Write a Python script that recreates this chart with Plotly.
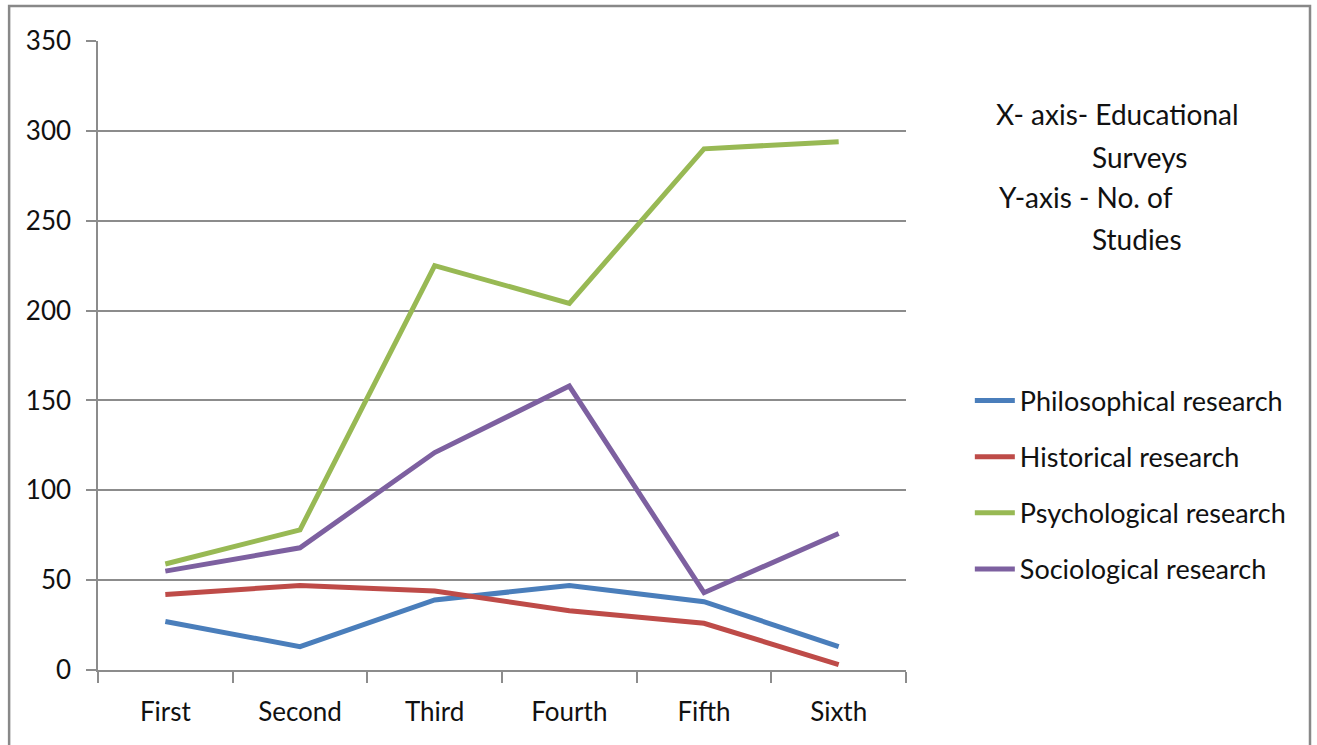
import plotly.graph_objects as go

# Survey categories and number of studies per research type
surveys = ["First", "Second", "Third", "Fourth", "Fifth", "Sixth"]
philosophical = [27, 13, 39, 47, 38, 13]
historical = [42, 47, 44, 33, 26, 3]
psychological = [59, 78, 225, 204, 290, 294]
sociological = [55, 68, 121, 158, 43, 76]

y_ticks = [0, 50, 100, 150, 200, 250, 300, 350]

series = [
    ("Philosophical research", philosophical, "#4A7EBB"),
    ("Historical research", historical, "#BE4B48"),
    ("Psychological research", psychological, "#98B954"),
    ("Sociological research", sociological, "#7D60A0"),
]

FONT = "Lato, Calibri, sans-serif"
TEXT = "#111111"
GRID = "#8c8c8c"

fig = go.Figure()
for i, (name, vals, color) in enumerate(series):
    fig.add_trace(go.Scatter(
        x=surveys, y=vals, name=name, mode="lines",
        line=dict(color=color, width=5),
        legendgroup=f"g{i}",
    ))

fig.update_layout(
    width=1317, height=745,
    margin=dict(l=98, r=411, t=41, b=75),
    paper_bgcolor="white", plot_bgcolor="white",
    font=dict(family=FONT, size=26, color=TEXT),
    showlegend=True,
    legend=dict(
        x=1.079, y=0.294, xanchor="left", yanchor="middle",
        font=dict(family=FONT, size=27, color=TEXT),
        tracegroupgap=18, itemwidth=40,
        bgcolor="rgba(0,0,0,0)",
    ),
    xaxis=dict(
        type="category", tickson="boundaries",
        showgrid=False, showline=True, linecolor=GRID, linewidth=1.5,
        ticks="outside", ticklen=11, tickcolor=GRID, tickwidth=1.5,
        tickfont=dict(family=FONT, size=26, color=TEXT),
        ticklabelstandoff=18,
        range=[-0.5, 5.5], fixedrange=True,
    ),
    yaxis=dict(
        range=[0, 350], tickvals=y_ticks,
        showgrid=True, gridcolor=GRID, gridwidth=1.5,
        showline=True, linecolor=GRID, linewidth=1.5,
        ticks="outside", ticklen=10, tickcolor=GRID, tickwidth=1.5,
        tickfont=dict(family=FONT, size=26, color=TEXT),
        ticklabelstandoff=10, zeroline=False,
    ),
)

# Axis description text block
notes = [
    ("X- axis- Educational", 1.109, 0.884),
    ("Surveys", 1.228, 0.816),
    ("Y-axis - No. of", 1.113, 0.752),
    ("Studies", 1.228, 0.685),
]
for text, x, y in notes:
    fig.add_annotation(
        text=text, xref="paper", yref="paper", x=x, y=y,
        xanchor="left", yanchor="middle", showarrow=False,
        font=dict(family=FONT, size=28, color=TEXT),
    )

# Outer frame
fig.add_shape(
    type="rect", xref="paper", yref="paper",
    x0=-0.110, x1=1.5, y0=-0.2, y1=1.0556,
    line=dict(color="#888888", width=2.5), layer="below",
)

fig.write_html("out.html")
